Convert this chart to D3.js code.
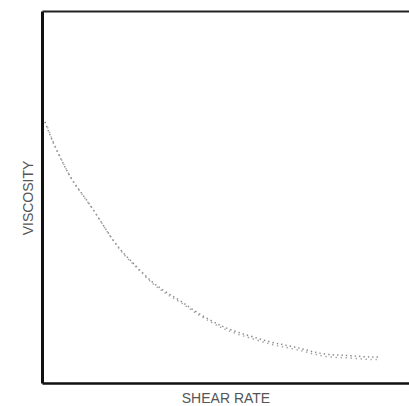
<!DOCTYPE html>
<html>
<head>
<meta charset="utf-8">
<script src="https://cdn.jsdelivr.net/npm/d3@7"></script>
<style>
  body { margin: 0; background: #fff; }
  svg { display: block; }
</style>
</head>
<body>
<svg id="chart"></svg>
<script>
// values (arbitrary units, axes run 0-100)
var shearRate = [0.8, 3.0, 5.7, 8.4, 12.3, 16.3, 19.3, 22.1, 24.8, 27.2, 29.9, 32.2, 34.9, 37.6,
    41.1, 45.8, 49.3, 53.1, 57.5, 62.1, 66.2, 70.3, 73.8, 78.5, 83.1, 87.5, 91.6];
var viscosity = [70.2, 64.5, 59.1, 54.0, 49.2, 43.0, 38.4, 34.9, 32.3, 29.8, 27.2, 25.5, 23.7, 22.3,
    19.6, 16.9, 15.1, 13.7, 12.4, 11.0, 10.2, 9.4, 8.3, 7.5, 7.5, 7.0, 7.0];
var xLabel = "SHEAR RATE";
var yLabel = "VISCOSITY";

var width = 409, height = 406;
var margin = {top: 11, right: 0, bottom: 23, left: 42};

var svg = d3.select("#chart")
    .attr("width", width)
    .attr("height", height);

var x = d3.scaleLinear()
    .domain([0, 100])
    .range([margin.left, width - margin.right]);

var y = d3.scaleLinear()
    .domain([0, 100])
    .range([height - margin.bottom, margin.top]);

var points = shearRate.map(function(d, i){
    return {x: d, y: viscosity[i]};
});

// frame: left, bottom and top lines, no ticks
svg.append("g")
    .attr("transform", `translate(${x(0)}, 0)`)
    .call(d3.axisLeft(y).ticks(0).tickSizeOuter(0))
    .select("path")
    .attr("stroke", "#111")
    .attr("stroke-width", 3);

svg.append("g")
    .attr("transform", `translate(0, ${y(0)})`)
    .call(d3.axisBottom(x).ticks(0).tickSizeOuter(0))
    .select("path")
    .attr("stroke", "#111")
    .attr("stroke-width", 2.5);

svg.append("g")
    .attr("transform", `translate(0, ${y(100)})`)
    .call(d3.axisTop(x).ticks(0).tickSizeOuter(0))
    .select("path")
    .attr("stroke", "#222")
    .attr("stroke-width", 2);

// dotted curve (two offset rows of dots like the print)
var line = d3.line()
    .x(d => x(d.x))
    .y(d => y(d.y))
    .curve(d3.curveBasis);

svg.append("path")
    .datum(points)
    .attr("d", line)
    .attr("fill", "none")
    .attr("stroke", "#8a8a8a")
    .attr("stroke-width", 1.5)
    .attr("stroke-dasharray", "1.4,3");

svg.append("path")
    .datum(points)
    .attr("d", line)
    .attr("transform", "translate(1.5, 2.5)")
    .attr("fill", "none")
    .attr("stroke", "#a5a5a5")
    .attr("stroke-width", 1.5)
    .attr("stroke-dasharray", "1.4,3.6")
    .attr("stroke-dashoffset", 2);

// axis labels
svg.append("text")
    .attr("x", 226)
    .attr("y", 403)
    .attr("font-family", "Liberation Sans, Arial, sans-serif")
    .attr("font-size", "14px")
    .attr("fill", "#555")
    .attr("text-anchor", "middle")
    .text(xLabel);

svg.append("text")
    .attr("x", -198)
    .attr("y", 33)
    .attr("font-family", "Liberation Sans, Arial, sans-serif")
    .attr("font-size", "14px")
    .attr("fill", "#555")
    .attr("text-anchor", "middle")
    .attr("transform", "rotate(-90)")
    .text(yLabel);
</script>
</body>
</html>
